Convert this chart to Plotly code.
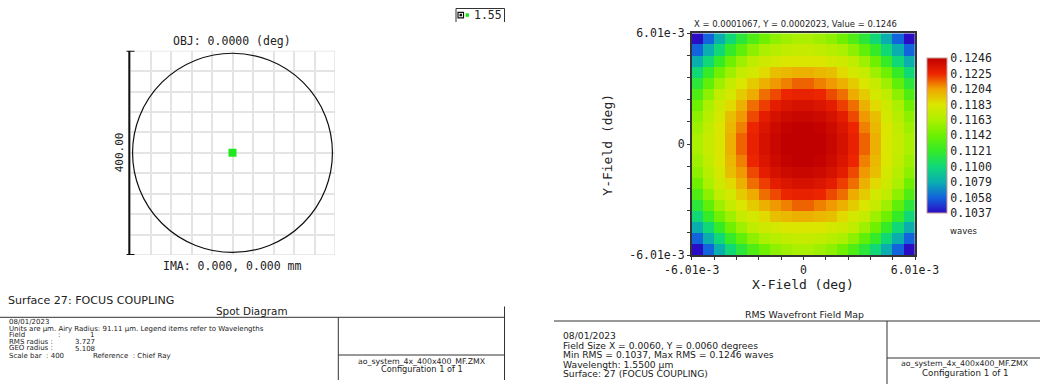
import numpy as np
import plotly.graph_objects as go

W, H = 1040, 384

# ---------------- Spot diagram data ----------------
wavelength_label = "1.55"
spot_x = [0.0]          # ray intercepts (um, relative to chief ray)
spot_y = [0.0]
scale_bar = 400.0        # um, full plot height
ring_radius = 195.0      # um, reference circle drawn around the spot

# ---------------- RMS wavefront field map (waves) ----------------
field_half = 0.00601     # deg
rms_map = [
    [0.1037, 0.1058, 0.1079, 0.1100, 0.1116, 0.1131, 0.1142, 0.1152, 0.1158, 0.1162, 0.1162, 0.1158, 0.1152, 0.1142, 0.1131, 0.1116, 0.1100, 0.1079, 0.1058, 0.1037],
    [0.1058, 0.1079, 0.1100, 0.1121, 0.1137, 0.1152, 0.1162, 0.1167, 0.1171, 0.1173, 0.1173, 0.1171, 0.1167, 0.1162, 0.1152, 0.1137, 0.1121, 0.1100, 0.1079, 0.1058],
    [0.1079, 0.1100, 0.1121, 0.1142, 0.1158, 0.1171, 0.1177, 0.1179, 0.1183, 0.1183, 0.1183, 0.1183, 0.1179, 0.1177, 0.1171, 0.1158, 0.1142, 0.1121, 0.1100, 0.1079],
    [0.1100, 0.1121, 0.1142, 0.1158, 0.1173, 0.1179, 0.1187, 0.1196, 0.1198, 0.1200, 0.1200, 0.1198, 0.1196, 0.1187, 0.1179, 0.1173, 0.1158, 0.1142, 0.1121, 0.1100],
    [0.1116, 0.1137, 0.1158, 0.1173, 0.1183, 0.1192, 0.1200, 0.1206, 0.1210, 0.1215, 0.1215, 0.1210, 0.1206, 0.1200, 0.1192, 0.1183, 0.1173, 0.1158, 0.1137, 0.1116],
    [0.1131, 0.1152, 0.1171, 0.1179, 0.1192, 0.1202, 0.1213, 0.1219, 0.1225, 0.1227, 0.1227, 0.1225, 0.1219, 0.1213, 0.1202, 0.1192, 0.1179, 0.1171, 0.1152, 0.1131],
    [0.1142, 0.1162, 0.1177, 0.1187, 0.1200, 0.1213, 0.1221, 0.1229, 0.1233, 0.1236, 0.1236, 0.1233, 0.1229, 0.1221, 0.1213, 0.1200, 0.1187, 0.1177, 0.1162, 0.1142],
    [0.1152, 0.1167, 0.1179, 0.1196, 0.1206, 0.1219, 0.1229, 0.1236, 0.1240, 0.1242, 0.1242, 0.1240, 0.1236, 0.1229, 0.1219, 0.1206, 0.1196, 0.1179, 0.1167, 0.1152],
    [0.1158, 0.1171, 0.1183, 0.1198, 0.1210, 0.1225, 0.1233, 0.1240, 0.1244, 0.1246, 0.1246, 0.1244, 0.1240, 0.1233, 0.1225, 0.1210, 0.1198, 0.1183, 0.1171, 0.1158],
    [0.1162, 0.1173, 0.1183, 0.1200, 0.1215, 0.1227, 0.1236, 0.1242, 0.1246, 0.1246, 0.1246, 0.1246, 0.1242, 0.1236, 0.1227, 0.1215, 0.1200, 0.1183, 0.1173, 0.1162],
    [0.1162, 0.1173, 0.1183, 0.1200, 0.1215, 0.1227, 0.1236, 0.1242, 0.1246, 0.1246, 0.1246, 0.1246, 0.1242, 0.1236, 0.1227, 0.1215, 0.1200, 0.1183, 0.1173, 0.1162],
    [0.1158, 0.1171, 0.1183, 0.1198, 0.1210, 0.1225, 0.1233, 0.1240, 0.1244, 0.1246, 0.1246, 0.1244, 0.1240, 0.1233, 0.1225, 0.1210, 0.1198, 0.1183, 0.1171, 0.1158],
    [0.1152, 0.1167, 0.1179, 0.1196, 0.1206, 0.1219, 0.1229, 0.1236, 0.1240, 0.1242, 0.1242, 0.1240, 0.1236, 0.1229, 0.1219, 0.1206, 0.1196, 0.1179, 0.1167, 0.1152],
    [0.1142, 0.1162, 0.1177, 0.1187, 0.1200, 0.1213, 0.1221, 0.1229, 0.1233, 0.1236, 0.1236, 0.1233, 0.1229, 0.1221, 0.1213, 0.1200, 0.1187, 0.1177, 0.1162, 0.1142],
    [0.1131, 0.1152, 0.1171, 0.1179, 0.1192, 0.1202, 0.1213, 0.1219, 0.1225, 0.1227, 0.1227, 0.1225, 0.1219, 0.1213, 0.1202, 0.1192, 0.1179, 0.1171, 0.1152, 0.1131],
    [0.1116, 0.1137, 0.1158, 0.1173, 0.1183, 0.1192, 0.1200, 0.1206, 0.1210, 0.1215, 0.1215, 0.1210, 0.1206, 0.1200, 0.1192, 0.1183, 0.1173, 0.1158, 0.1137, 0.1116],
    [0.1100, 0.1121, 0.1142, 0.1158, 0.1173, 0.1179, 0.1187, 0.1196, 0.1198, 0.1200, 0.1200, 0.1198, 0.1196, 0.1187, 0.1179, 0.1173, 0.1158, 0.1142, 0.1121, 0.1100],
    [0.1079, 0.1100, 0.1121, 0.1142, 0.1158, 0.1171, 0.1177, 0.1179, 0.1183, 0.1183, 0.1183, 0.1183, 0.1179, 0.1177, 0.1171, 0.1158, 0.1142, 0.1121, 0.1100, 0.1079],
    [0.1058, 0.1079, 0.1100, 0.1121, 0.1137, 0.1152, 0.1162, 0.1167, 0.1171, 0.1173, 0.1173, 0.1171, 0.1167, 0.1162, 0.1152, 0.1137, 0.1121, 0.1100, 0.1079, 0.1058],
    [0.1037, 0.1058, 0.1079, 0.1100, 0.1116, 0.1131, 0.1142, 0.1152, 0.1158, 0.1162, 0.1162, 0.1158, 0.1152, 0.1142, 0.1131, 0.1116, 0.1100, 0.1079, 0.1058, 0.1037],
]
rms_min, rms_max = 0.1037, 0.1246
cbar_labels = ["0.1037", "0.1058", "0.1079", "0.1100", "0.1121", "0.1142",
               "0.1163", "0.1183", "0.1204", "0.1225", "0.1246"]
axis_labels = ["-6.01e-3", "0", "6.01e-3"]

# Zemax-style false colour scale
false_color = [
    [0.00, "#2a0cc4"], [0.10, "#1264dc"], [0.20, "#0aaeb0"], [0.30, "#10d878"],
    [0.40, "#34ea28"], [0.50, "#6cf000"], [0.60, "#acf000"], [0.70, "#dce600"],
    [0.80, "#f0a400"], [0.90, "#ec2400"], [1.00, "#c00000"],
]

MONO = "DejaVu Sans Mono"
SANS = "DejaVu Sans"


def px(x):
    return x / W


def py(y):
    return 1 - y / H


n = len(rms_map)
cell = 2 * field_half / n
xc = -field_half + cell / 2 + cell * np.arange(n)
yc = field_half - cell / 2 - cell * np.arange(n)   # first row drawn at top

fig = go.Figure()

# spot diagram
fig.add_trace(go.Scatter(
    x=spot_x, y=spot_y, mode="markers", xaxis="x", yaxis="y",
    marker=dict(symbol="square", size=8, color="#1ee81e",
                line=dict(width=0)),
    showlegend=False, hoverinfo="skip"))

# field map
fig.add_trace(go.Heatmap(
    z=rms_map, x=xc, y=yc, xaxis="x2", yaxis="y2",
    zmin=rms_min, zmax=rms_max, colorscale=false_color,
    colorbar=dict(
        x=px(927.3), xanchor="left", xref="paper", xpad=0, ypad=0,
        y=py(135.8), yanchor="middle", yref="paper",
        len=155 / H, lenmode="fraction", thickness=20, thicknessmode="pixels",
        outlinewidth=1, outlinecolor="#c89a9a",
        tickvals=[float(v) for v in cbar_labels], ticktext=cbar_labels,
        ticks="",
        tickfont=dict(family=MONO, size=11.5, color="#222"),
    ),
    hoverinfo="skip"))

half = scale_bar / 2
minor_ticks = list(np.round(np.arange(-field_half, field_half + 1e-9, 2 * cell), 7))


def tick_text(v):
    if abs(v + field_half) < 1e-9:
        return axis_labels[0]
    if abs(v - field_half) < 1e-9:
        return axis_labels[2]
    if abs(v) < 1e-9:
        return axis_labels[1]
    return ""


field_ticks = [tick_text(v) for v in minor_ticks]

fig.update_layout(
    width=W, height=H, margin=dict(l=0, r=0, t=0, b=0, autoexpand=False),
    paper_bgcolor="white", plot_bgcolor="white", showlegend=False,
    xaxis=dict(domain=[px(130), px(335)], range=[-half, half], dtick=40,
               showgrid=True, gridcolor="#e4e4e4", gridwidth=1.5, automargin=False,
               zeroline=False, showticklabels=False, ticks="", showline=False,
               fixedrange=True),
    yaxis=dict(domain=[py(255), py(50.7)], range=[-half, half], dtick=40,
               showgrid=True, gridcolor="#e4e4e4", gridwidth=1.5, automargin=False,
               zeroline=False, showticklabels=False, ticks="", showline=False,
               fixedrange=True),
    xaxis2=dict(domain=[px(691.7), px(915)], range=[-field_half, field_half],
                anchor="y2", showgrid=False, zeroline=False, automargin=False,
                tickmode="array", tickvals=minor_ticks, ticktext=field_ticks,
                ticks="outside", ticklen=3, tickcolor="#333",
                showline=True, linecolor="#333", linewidth=1.5, mirror=True,
                tickfont=dict(family=MONO, size=11.5, color="#222")),
    yaxis2=dict(domain=[py(255), py(33.3)], range=[-field_half, field_half],
                anchor="x2", showgrid=False, zeroline=False, automargin=False,
                tickmode="array", tickvals=minor_ticks, ticktext=field_ticks,
                ticks="outside", ticklen=3, tickcolor="#333",
                showline=True, linecolor="#333", linewidth=1.5, mirror=True,
                tickfont=dict(family=MONO, size=11.5, color="#222")),
)

shapes = []
# spot plot frame and reference circle
shapes.append(dict(type="rect", xref="x", yref="y", x0=-half, x1=half,
                   y0=-half, y1=half, line=dict(color="#e4e4e4", width=1.5)))
shapes.append(dict(type="circle", xref="x", yref="y",
                   x0=-ring_radius, x1=ring_radius,
                   y0=-ring_radius, y1=ring_radius,
                   line=dict(color="#111", width=1.2)))
# scale bar
shapes.append(dict(type="line", xref="paper", yref="y", x0=px(129.3), x1=px(129.3),
                   y0=-half, y1=half, line=dict(color="#111", width=2)))
for yb in (-half, half):
    shapes.append(dict(type="line", xref="paper", yref="y", x0=px(126.5), x1=px(134.5),
                       y0=yb, y1=yb, line=dict(color="#111", width=2)))

# legend box
for x0, y0, x1, y1 in [(456, 8.5, 504.5, 8.5), (456, 8.5, 456, 22), (504.5, 8.5, 504.5, 22)]:
    shapes.append(dict(type="line", xref="paper", yref="paper",
                       x0=px(x0), y0=py(y0), x1=px(x1), y1=py(y1),
                       line=dict(color="#333", width=1)))
shapes.append(dict(type="rect", xref="paper", yref="paper",
                   x0=px(458), x1=px(463.5), y0=py(17.8), y1=py(12.3),
                   line=dict(color="#111", width=1.2), fillcolor="white"))
shapes.append(dict(type="rect", xref="paper", yref="paper",
                   x0=px(459.5), x1=px(462), y0=py(16.3), y1=py(13.8),
                   line=dict(width=0), fillcolor="#111"))
shapes.append(dict(type="rect", xref="paper", yref="paper",
                   x0=px(465.5), x1=px(469), y0=py(16.8), y1=py(13.3),
                   line=dict(width=0), fillcolor="#1ee81e"))

# footer boxes
for x0, y0, x1, y1 in [
    (0, 317.3, 505, 317.3), (504.5, 306.5, 504.5, 380), (338.3, 317.3, 338.3, 380),
    (338.3, 355, 505, 355),
    (554, 321, 1040, 321), (887, 321, 887, 384), (887, 358, 1040, 358),
]:
    shapes.append(dict(type="line", xref="paper", yref="paper",
                       x0=px(x0), y0=py(y0), x1=px(x1), y1=py(y1),
                       line=dict(color="#333", width=1)))
fig.update_layout(shapes=shapes)

ann = []


def text(x, y, s, size, family=SANS, xanchor="left", color="#222", angle=0):
    ann.append(dict(x=px(x), y=py(y), xref="paper", yref="paper", text=s,
                    showarrow=False, xanchor=xanchor, yanchor="middle",
                    textangle=angle, font=dict(family=family, size=size, color=color)))


# spot diagram labels
text(231.5, 41, "OBJ: 0.0000 (deg)", 11.5, MONO, "center")
text(232.5, 265.5, "IMA: 0.000, 0.000 mm", 11.5, MONO, "center")
text(119.5, 152.8, f"{scale_bar:.2f}", 11, MONO, "center", angle=-90)
text(471.5, 15, wavelength_label, 11.5, MONO, "left")

# field map labels
text(795.5, 24.3, "X = 0.0001067, Y = 0.0002023, Value = 0.1246", 8.45, SANS, "center")
text(963, 230.5, "waves", 8.5, SANS, "center")
text(802.5, 284, "X-Field (deg)", 13, MONO, "center")
text(606.7, 145, "Y-Field (deg)", 13, MONO, "center", angle=-90)

# left footer
text(6, 300, "Surface 27: FOCUS COUPLING", 11.1, SANS, "left")
text(251.5, 310.5, "Spot Diagram", 10.4, SANS, "center")
small = 7
text(7, 321.7, "08/01/2023", small)
text(7, 328.5, "Units are \u00b5m. Airy Radius: 91.11 \u00b5m. Legend items refer to Wavelengths", small)
text(7, 335.2, "Field", small)
text(56, 335.2, ":", small)
text(88, 334.5, "1", small)
text(7, 341.7, "RMS radius :", small)
text(73, 342.3, "3.727", small)
text(7, 347.8, "GEO radius :", small)
text(73, 348.5, "5.108", small)
text(7, 355.8, "Scale bar  : 400", small)
text(90.5, 355.8, "Reference  : Chief Ray", small)
text(421.7, 361.5, "ao_system_4x_400x400_MF.ZMX", 7.8, SANS, "center")
text(421.7, 368.8, "Configuration 1 of 1", 8.2, SANS, "center")

# right footer
text(804.5, 314, "RMS Wavefront Field Map", 9.4, SANS, "center")
rf = 9.2
text(560.5, 335.7, "08/01/2023", rf)
text(560.5, 345.2, "Field Size X = 0.0060, Y = 0.0060 degrees", rf)
text(560.5, 354.6, f"Min RMS = {rms_min:.4f}, Max RMS = {rms_max:.4f} waves", rf)
text(560.5, 364, "Wavelength: 1.5500 \u00b5m", rf)
text(560.5, 373.3, "Surface: 27 (FOCUS COUPLING)", rf)
text(965, 363, "ao_system_4x_400x400_MF.ZMX", 7.8, SANS, "center")
text(965, 372.7, "Configuration 1 of 1", 8.7, SANS, "center")

fig.update_layout(annotations=ann)
fig.write_html("out.html")
